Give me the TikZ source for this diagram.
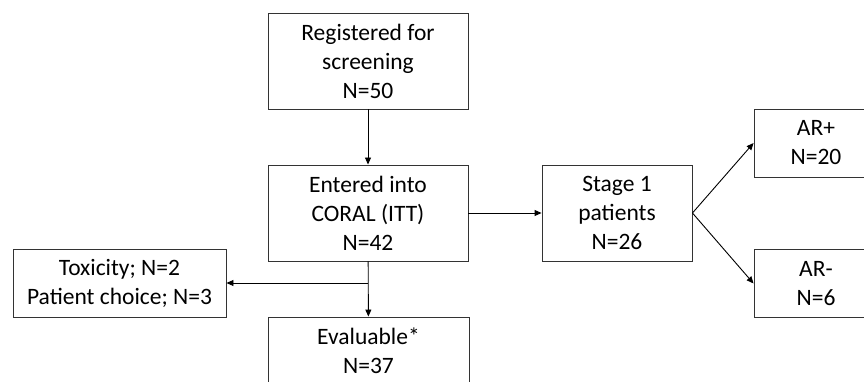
\documentclass[tikz,border=0pt]{standalone}
\usepackage{fontspec}
\setmainfont{Carlito}
\usetikzlibrary{arrows.meta}
\begin{document}
\begin{tikzpicture}[x=1pt, y=-1pt]
            \tikzstyle{box}=[draw=black!80, line width=0.9pt, align=center, inner sep=0pt, font=\fontsize{23.5}{29}\selectfont]
            \tikzstyle{arr}=[line width=0.9pt, -{Triangle[length=7pt, width=6pt]}]
            \clip (0, 0) rectangle (864, 382);
            \node [box, minimum width=200, minimum height=96] (reg) at (368, 61) {Registered for\\screening\\N=50};
            \node [box, minimum width=200, minimum height=96] (itt) at (368, 213) {Entered into\\CORAL (ITT)\\N=42};
            \node [box, minimum width=201, minimum height=68] (eval) at (368.5, 351) {Evaluable*\\N=37};
            \node [box, minimum width=213, minimum height=68] (offstudy) at (119.5, 283) {Toxicity; N=2\\Patient choice; N=3};
            \node [box, minimum width=150, minimum height=96] (stage1) at (617, 213) {Stage 1\\patients\\N=26};
            \node [box, minimum width=124, minimum height=68] (arpos) at (816, 143) {AR+\\N=20};
            \node [box, minimum width=124, minimum height=68] (arneg) at (816, 283.5) {AR-\\N=6};
            \draw [arr] (reg) -- (itt);
            \draw [arr] (itt) -- (eval);
            \draw [arr] (itt.south |- offstudy.east) -- (offstudy);
            \draw [arr] (itt) -- (stage1);
            \draw [arr] (stage1.east) -- (arpos.west);
            \draw [arr] (stage1.east) -- (arneg.west);
        \end{tikzpicture}
\end{document}
